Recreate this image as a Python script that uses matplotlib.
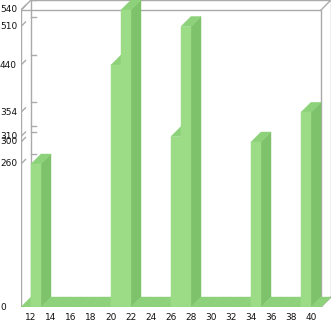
import matplotlib
matplotlib.use("Agg")
import matplotlib.pyplot as plt
from matplotlib.patches import Polygon
from matplotlib.transforms import blended_transform_factory

# categories and bar heights
categories = list(range(11, 41))
values = [0, 260, 0, 0, 0, 0, 0, 0, 0, 440,
          540, 0, 0, 0, 0, 310, 510, 0, 0, 0,
          0, 0, 0, 300, 0, 0, 0, 0, 354, 0]
x_ticks = list(range(12, 41, 2))
y_ticks = [0, 260, 300, 310, 354, 440, 510, 540]

ymax = 540
dx = 1.0              # depth offset in category units
dy = ymax / 297 * 10  # depth offset in value units (10 px)

front_c = "#9cdc87"
side_c = "#7ec26b"
top_c = "#8dd27a"
line_c = "#aaaaaa"

fig = plt.figure(figsize=(3.33, 3.21), dpi=100)
ax = fig.add_axes([21 / 333, 14 / 321, 310 / 333, 307 / 321])
ax.set_xlim(11, 41 + dx)
ax.set_ylim(0, ymax + dy)
ax.axis("off")

x0, x1 = categories[0], categories[-1] + 1

# back wall frame
ax.plot([x0 + dx, x0 + dx, x1 + dx, x1 + dx], [dy, ymax + dy, ymax + dy, dy],
        color=line_c, lw=1, zorder=1)
# front frame
ax.plot([x0, x0, x1, x1], [0, ymax, ymax, 0], color=line_c, lw=1, zorder=1)
# corner connectors
for cx, cy in [(x0, ymax), (x1, ymax), (x1, 0)]:
    ax.plot([cx, cx + dx], [cy, cy + dy], color=line_c, lw=1, zorder=1)

# ticks on back wall and front diagonal marks
for t in y_ticks[1:]:
    ax.plot([x0 + dx, x0 + dx * 1.5], [t + dy, t + dy], color=line_c, lw=1, zorder=1)
    ax.plot([x0, x0 + dx * 0.45], [t, t + dy * 0.45], color=line_c, lw=1, zorder=1)

# bars, left to right so later bars cover earlier side faces
z = 2
for c, v in zip(categories, values):
    side = [(c + 1, 0), (c + 1 + dx, dy), (c + 1 + dx, v + dy), (c + 1, v)]
    top = [(c, v), (c + 1, v), (c + 1 + dx, v + dy), (c + dx, v + dy)]
    front = [(c, 0), (c + 1, 0), (c + 1, v), (c, v)]
    if v > 0:
        ax.add_patch(Polygon(side, closed=True, fc=side_c, ec=side_c, lw=0.3, zorder=z))
    ax.add_patch(Polygon(top, closed=True, fc=top_c, ec=top_c, lw=0.3, zorder=z))
    if v > 0:
        ax.add_patch(Polygon(front, closed=True, fc=front_c, ec=front_c, lw=0.3, zorder=z))
    z += 1

# y tick labels, left aligned at figure edge
ty = blended_transform_factory(fig.transFigure, ax.transData)
for t in y_ticks:
    ax.text(0.0, t, str(t), transform=ty, ha="left", va="center",
            fontsize=6.5, color="#111111")

# x tick labels
tx = blended_transform_factory(ax.transData, fig.transFigure)
for t in x_ticks:
    ax.text(t, 1 - 318 / 321, str(t), transform=tx, ha="center", va="center",
            fontsize=6.5, color="#111111")

fig.savefig("out.png", dpi=100)
